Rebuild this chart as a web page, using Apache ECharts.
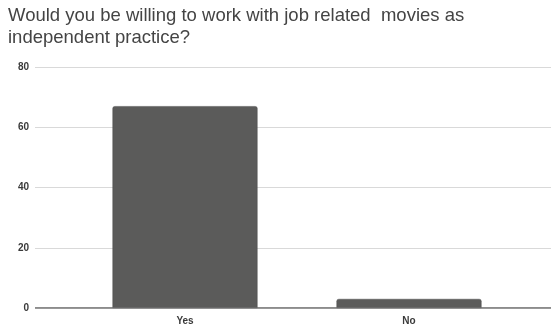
<!DOCTYPE html>
<html>
<head>
<meta charset="utf-8">
<script src="https://cdn.jsdelivr.net/npm/echarts@6/dist/echarts.min.js"></script>
<style>
  html, body { margin: 0; padding: 0; background: #fff; }
  #chart { width: 551px; height: 329px; }
</style>
</head>
<body>
<div id="chart"></div>
<script>
// Survey answers and response counts
const categories = ["Yes", "No"];
const responses = [67, 3];
const yTicks = [0, 20, 40, 60, 80];

const titleText = "Would you be willing to work with job related  movies as\nindependent practice?";

const chart = echarts.init(document.getElementById("chart"));

const yMin = yTicks[0];
const yMax = yTicks[yTicks.length - 1];
const yStep = yTicks[1] - yTicks[0];

const labelFont = {
  color: "#3a3a3a",
  fontSize: 10,
  fontWeight: "bold",
  fontFamily: "Liberation Sans, Arial, sans-serif"
};

chart.setOption({
  animation: false,
  title: {
    text: titleText,
    left: 3,
    top: 0,
    textStyle: {
      fontFamily: "Liberation Sans, Arial, sans-serif",
      fontSize: 18.5,
      fontWeight: "normal",
      color: "#444",
      lineHeight: 22
    }
  },
  grid: [
    // wide grid carrying the gridlines and value labels
    { left: 35, right: 0, top: 67, bottom: 21, containLabel: false },
    // inner grid holding the bars
    { left: 73, right: 30, top: 67, bottom: 21, containLabel: false }
  ],
  xAxis: [
    {
      gridIndex: 0,
      type: "value",
      min: 0, max: 1,
      show: false
    },
    {
      gridIndex: 1,
      type: "category",
      data: categories,
      axisLine: { show: false },
      axisTick: { show: false },
      axisLabel: Object.assign({ margin: 8 }, labelFont)
    }
  ],
  yAxis: [
    {
      gridIndex: 0,
      type: "value",
      min: yMin, max: yMax, interval: yStep,
      axisLine: { show: false },
      axisTick: { show: false },
      axisLabel: Object.assign({ margin: 6 }, labelFont),
      splitLine: { lineStyle: { color: "#d9d9d9", width: 1 } }
    },
    {
      gridIndex: 1,
      type: "value",
      min: yMin, max: yMax, interval: yStep,
      show: false,
      splitLine: { show: false }
    }
  ],
  series: [
    {
      type: "bar",
      xAxisIndex: 1,
      yAxisIndex: 1,
      data: responses,
      barWidth: 145,
      itemStyle: {
        color: "#5b5b5a",
        borderColor: "#4e4e4e",
        borderWidth: 0.5,
        borderRadius: [2, 2, 0, 0]
      },
      z: 3
    },
    {
      // baseline at zero across the full plot width
      type: "line",
      xAxisIndex: 0,
      yAxisIndex: 0,
      data: [[0, 0], [1, 0]],
      symbol: "none",
      lineStyle: { color: "#666", width: 1.5 },
      z: 4,
      silent: true
    }
  ]
});
</script>
</body>
</html>
